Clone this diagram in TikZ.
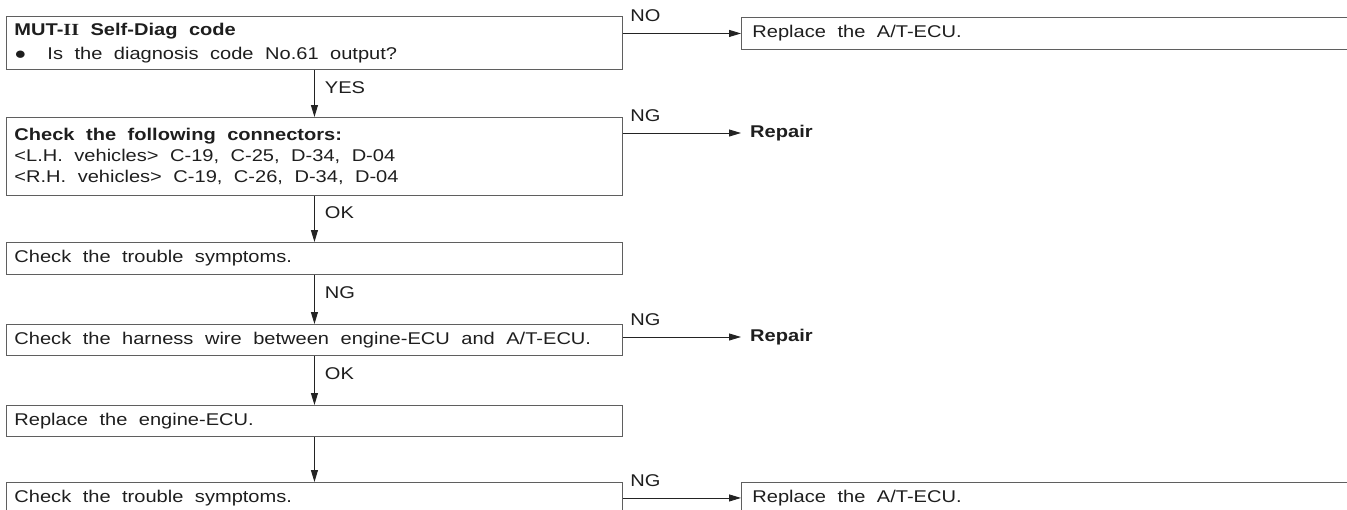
\documentclass[tikz,border=0pt]{standalone}
\usepackage{fontspec}
\setmainfont{Liberation Sans}[FakeStretch=1.18]
\newfontfamily\romfont{Liberation Serif}[FakeStretch=1.18]
\usetikzlibrary{arrows.meta,positioning}
\definecolor{diagtext}{RGB}{30,30,30}
\definecolor{diagline}{RGB}{95,95,95}
\definecolor{diagarrow}{RGB}{35,35,35}
\newcommand{\diagfont}{\fontsize{17}{21}\selectfont}
\tikzset{
  stepbox/.style={draw=diagline, line width=0.9pt, anchor=north west, text width=600pt,
    inner xsep=8pt, inner ysep=0pt, font=\diagfont, text=diagtext,
    execute at begin node={\spaceskip=11.5pt plus 1pt\relax}},
  endbox/.style={stepbox, text width=640pt, inner xsep=11pt},
  fixnode/.style={anchor=west, inner xsep=9pt, font=\diagfont\bfseries, text=diagtext},
  flow/.style={draw=diagarrow, line width=0.9pt, -{Triangle[length=12pt,width=7pt]}},
  vlbl/.style={right, pos=0.37, inner sep=0pt, xshift=10pt, font=\diagfont, text=diagtext},
  hlbl/.style={pos=0, anchor=south west, inner sep=0pt, xshift=7pt, yshift=11pt, font=\diagfont, text=diagtext}
}

\begin{document}
\begin{tikzpicture}[x=1pt,y=1pt]
  \useasboundingbox (0,0) rectangle (1347,-509);

  % Check boxes, left column
  \node[stepbox, minimum height=53pt] (diag) at (6,-16)
    {\textbf{MUT-{\romfont II} Self-Diag code}\\[3pt]\makebox[33pt][l]{●}Is the diagnosis code No.61 output?};
  \node[stepbox, minimum height=78pt] (conn) at (6,-117)
    {\textbf{Check the following connectors:}\\<L.H. vehicles> C-19, C-25, D-34, D-04\\<R.H. vehicles> C-19, C-26, D-34, D-04};
  \node[stepbox, minimum height=32pt] (sym1) at (6,-242) {Check the trouble symptoms.};
  \node[stepbox, minimum height=31pt] (harn) at (6,-324) {Check the harness wire between engine-ECU and A/T-ECU.};
  \node[stepbox, minimum height=31pt] (ecu) at (6,-405) {Replace the engine-ECU.};
  \node[stepbox, minimum height=31pt] (sym2) at (6,-482) {Check the trouble symptoms.};

  % Results, right column
  \node[endbox, minimum height=32pt] (rep1) at (741,-17) {Replace the A/T-ECU.};
  \node[fixnode] (fix1) at (741,-133) {Repair};
  \node[fixnode] (fix2) at (741,-337) {Repair};
  \node[endbox, minimum height=31pt] (rep2) at (741,-482) {Replace the A/T-ECU.};

  % Down the column
  \draw[flow] (diag.south) -- (conn.north) node[vlbl] {YES};
  \draw[flow] (conn.south) -- (sym1.north) node[vlbl] {OK};
  \draw[flow] (sym1.south) -- (harn.north) node[vlbl] {NG};
  \draw[flow] (harn.south) -- (ecu.north) node[vlbl] {OK};
  \draw[flow] (ecu.south) -- (sym2.north);

  % Branches to the right
  \draw[flow] (rep1.west -| diag.east) -- (rep1.west) node[hlbl] {NO};
  \draw[flow] (fix1.west -| conn.east) -- (fix1.west) node[hlbl] {NG};
  \draw[flow] (fix2.west -| harn.east) -- (fix2.west) node[hlbl] {NG};
  \draw[flow] (rep2.west -| sym2.east) -- (rep2.west) node[hlbl] {NG};
\end{tikzpicture}
\end{document}
